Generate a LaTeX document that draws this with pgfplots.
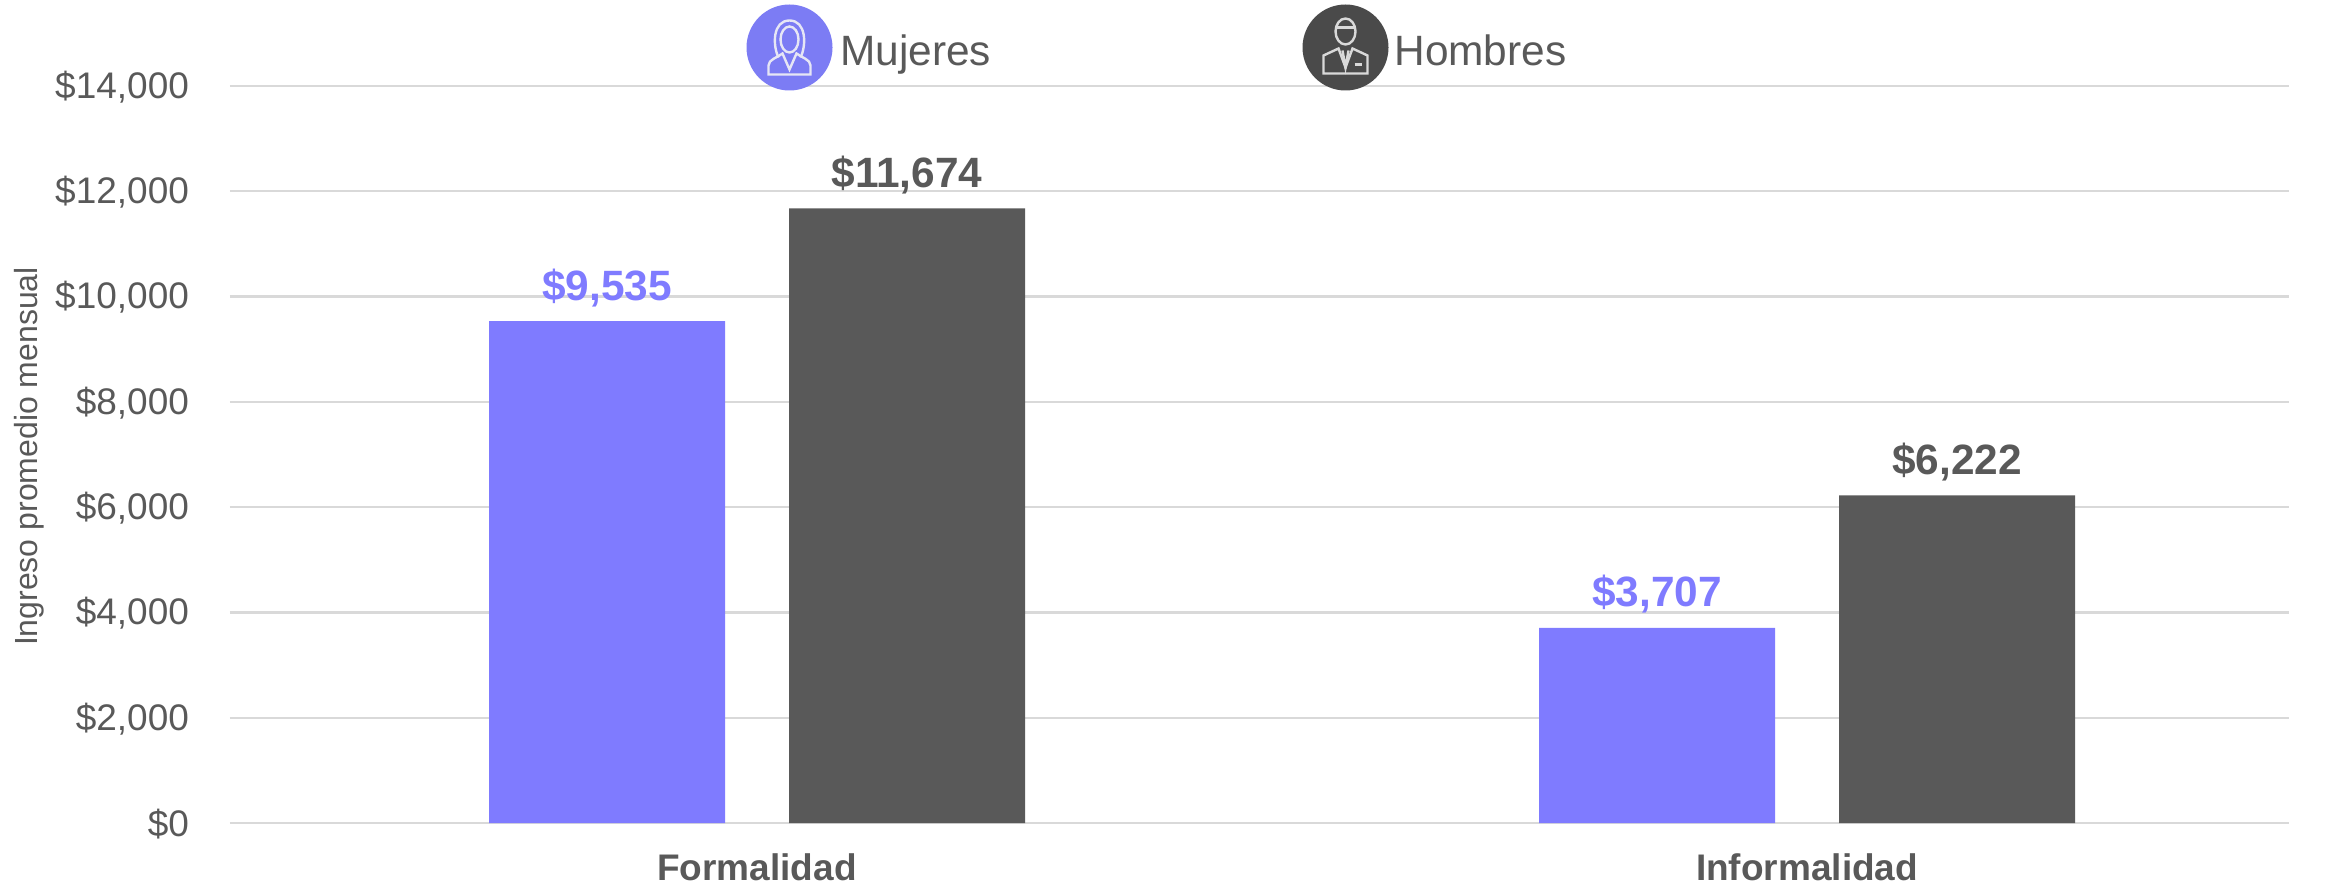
\documentclass[border=0pt]{standalone}
\usepackage{pgfplots}
\pgfplotsset{compat=1.18}
\usepackage{fontspec}
\setmainfont{Liberation Sans}
\definecolor{barM}{HTML}{7F7BFF}
\definecolor{barH}{HTML}{595959}
\definecolor{txt}{HTML}{595959}
\definecolor{gridc}{HTML}{D9D9D9}
\definecolor{icoM}{HTML}{7C7CF4}
\definecolor{icoH}{HTML}{4A4A4A}
\definecolor{icoL}{HTML}{E6E6F5}
\begin{document}
\begin{tikzpicture}
\useasboundingbox (0pt,0pt) rectangle (1171.5pt,442.5pt);
\begin{axis}[
  at={(115pt,31pt)}, anchor=south west,
  scale only axis, width=1029.5pt, height=368.5pt,
  xmin=-0.5019, xmax=1.4590, ymin=0, ymax=14000,
  ybar=32pt, bar width=118pt,
  clip=false,
  axis line style={draw=none},
  major tick length=0pt,
  scaled y ticks=false,
  ymajorgrids, grid style={gridc,line width=1.1pt},
  ytick={0,2000,4000,6000,8000,10000,12000,14000},
  yticklabels={\$0,{\$2,000},{\$4,000},{\$6,000},{\$8,000},{\$10,000},{\$12,000},{\$14,000}},
  yticklabel style={font=\fontsize{18.5}{20}\selectfont,text=txt,xshift=-17pt,yshift=-0.5pt},
  xtick={0,1}, xticklabels={Formalidad,Informalidad},
  xticklabel style={font=\fontsize{18.5}{20}\selectfont\bfseries,text=txt,yshift=-12pt},
  ylabel={Ingreso promedio mensual},
  ylabel style={font=\fontsize{16}{18}\selectfont,text=txt,yshift=-1.5pt,xshift=-1pt},
  /pgf/number format/assume math mode=true,
  /pgf/number format/fixed, /pgf/number format/1000 sep={,},
  nodes near coords={\$\pgfmathprintnumber{\pgfplotspointmeta}},
  nodes near coords align={vertical},
  every node near coord/.append style={font=\fontsize{21.2}{23}\selectfont\bfseries,inner sep=3pt,yshift=4pt},
]
\addplot[fill=barM,draw=none,every node near coord/.append style={text=barM}] coordinates {(0,9535) (1,3707)};
\addplot[fill=barH,draw=none,every node near coord/.append style={text=txt}] coordinates {(0,11674) (1,6222)};
\end{axis}
\begin{scope}[yshift=442.5pt,x=0.5pt,y=-0.5pt]
\begin{scope}[shift={(789.5,47.5)}]
  \fill[icoM] (0,0) circle [radius=21.5pt];
  \begin{scope}[draw=icoL,line width=1.2pt]
    \draw (0,-8) ellipse [x radius=4.5pt,y radius=6.5pt];
    \draw (-11,10) .. controls (-17,-2) and (-17,-27) .. (0,-27) .. controls (17,-27) and (17,-2) .. (11,10);
    \draw (-21,27) -- (21,27) -- (21,18) .. controls (21,12) and (12,10) .. (7,6) -- (0,22) -- (-7,6) .. controls (-12,10) and (-21,12) .. (-21,18) -- cycle;
  \end{scope}
\end{scope}
\begin{scope}[shift={(1345.5,47.5)}]
  \fill[icoH] (0,0) circle [radius=21.5pt];
  \begin{scope}[draw=white!85!black,line width=1.2pt]
    \draw (0,-16) ellipse [x radius=5pt,y radius=6.5pt];
    \draw (-10,-20) -- (10,-20);
    \draw (-22,26) -- (22,26) -- (22,8) -- (7,1) -- (0,20) -- (-7,1) -- (-22,8) -- cycle;
    \draw (-3,3) -- (0,20) -- (3,3);
    \draw (9,17) -- (16,17);
  \end{scope}
\end{scope}
\node[anchor=base west,inner sep=0pt,text=txt,font=\fontsize{21.2}{23}\selectfont] at (840,66) {Mujeres};
\node[anchor=base west,inner sep=0pt,text=txt,font=\fontsize{21.2}{23}\selectfont] at (1394,66) {Hombres};
\end{scope}
\end{tikzpicture}
\end{document}
